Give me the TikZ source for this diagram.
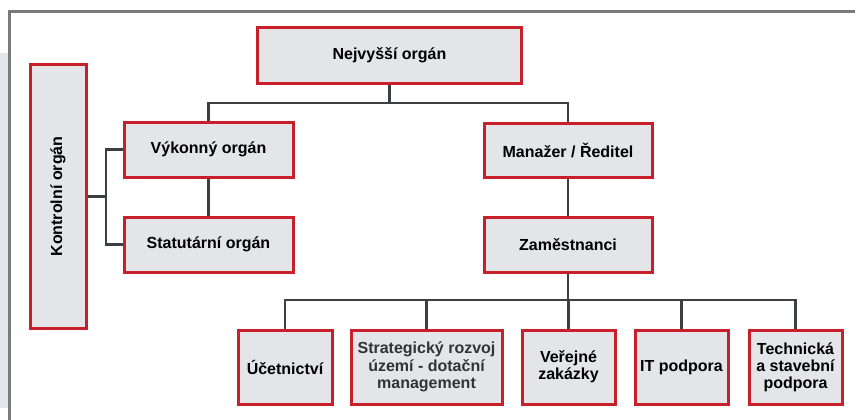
\documentclass[tikz,border=0pt]{standalone}
\usepackage{fontspec}
\setmainfont{Liberation Sans}
\usepackage{xcolor}
\usetikzlibrary{positioning, calc}

\definecolor{boxred}{HTML}{C8202A}
\definecolor{boxfill}{HTML}{E3E5E8}
\definecolor{linegray}{HTML}{3C3F44}
\definecolor{framegray}{HTML}{7A7A7C}
\definecolor{sidegray}{HTML}{E6E7EA}

\begin{document}
\begin{tikzpicture}[
  x=0.5pt, y=-0.5pt,
  orgbox/.style={draw=boxred, fill=boxfill, line width=1.5pt, align=center, inner sep=1pt,
    font=\fontsize{8}{8.6}\selectfont\bfseries},
  link/.style={draw=linegray, line width=1.1pt}
]
  \useasboundingbox (0,0) rectangle (855,419);

  %---------------- FRAME ----------------%
  \fill[sidegray] (0,53) rectangle (8,408);
  \draw[framegray, line width=1.1pt] (856,11.5) -- (9.5,11.5) -- (9.5,420);

  %---------------- UPPER LEVEL ----------------%
  \node[orgbox, minimum width=132pt, minimum height=28pt] (top) at (389.5,55) {Nejvyšší orgán};

  \node[orgbox, minimum width=28pt, minimum height=132pt] (kon) at (58,196.5) {\rotatebox{90}{Kontrolní orgán}};

  \node[orgbox, minimum width=84.5pt, minimum height=27.5pt] (vyk) at (208.5,149.5) {Výkonný orgán};
  \node[orgbox, minimum width=84.5pt, minimum height=27.5pt] (stat) at (208.5,244.5) {Statutární orgán};

  \node[orgbox, minimum width=84pt, minimum height=27pt] (man) at (568,150) {Manažer / Ředitel};
  \node[orgbox, minimum width=84pt, minimum height=27.5pt] (zam) at (568,244.5) {Zaměstnanci};

  %---------------- LOWER LEVEL ----------------%
  \node[orgbox, minimum width=47pt, minimum height=37pt] (uce) at (285,367) {Účetnictví};
  \node[orgbox, minimum width=75.5pt, minimum height=37pt, text=black!80] (str) at (426.5,367) {Strategický rozvoj\\území - dotační\\management};
  \node[orgbox, minimum width=46.5pt, minimum height=37pt] (ver) at (568.5,367) {Veřejné\\zakázky};
  \node[orgbox, minimum width=46.5pt, minimum height=37pt] (itp) at (681.5,367) {IT podpora};
  \node[orgbox, minimum width=46.5pt, minimum height=37pt] (tech) at (795.5,367) {Technická\\a stavební\\podpora};

  %---------------- CONNECTORS ----------------%
  \coordinate (topjoin) at (389.5,103);
  \coordinate (konjoin) at (106,196.5);
  \coordinate (zamjoin) at (568,300);

  \draw[link] (top.south) -- (topjoin);
  \draw[link] (topjoin) -| (vyk.north);
  \draw[link] (topjoin) -| (man.north);
  \draw[link] (vyk.south) -- (stat.north);
  \draw[link] (man.south) -- (zam.north);

  \draw[link] (kon.east) -- (konjoin);
  \draw[link] (konjoin) |- (vyk.west);
  \draw[link] (konjoin) |- (stat.west);

  \draw[link] (zam.south) -- (zamjoin);
  \foreach \n in {uce, str, ver, itp, tech}
    \draw[link] (zamjoin) -| (\n.north);

\end{tikzpicture}
\end{document}
